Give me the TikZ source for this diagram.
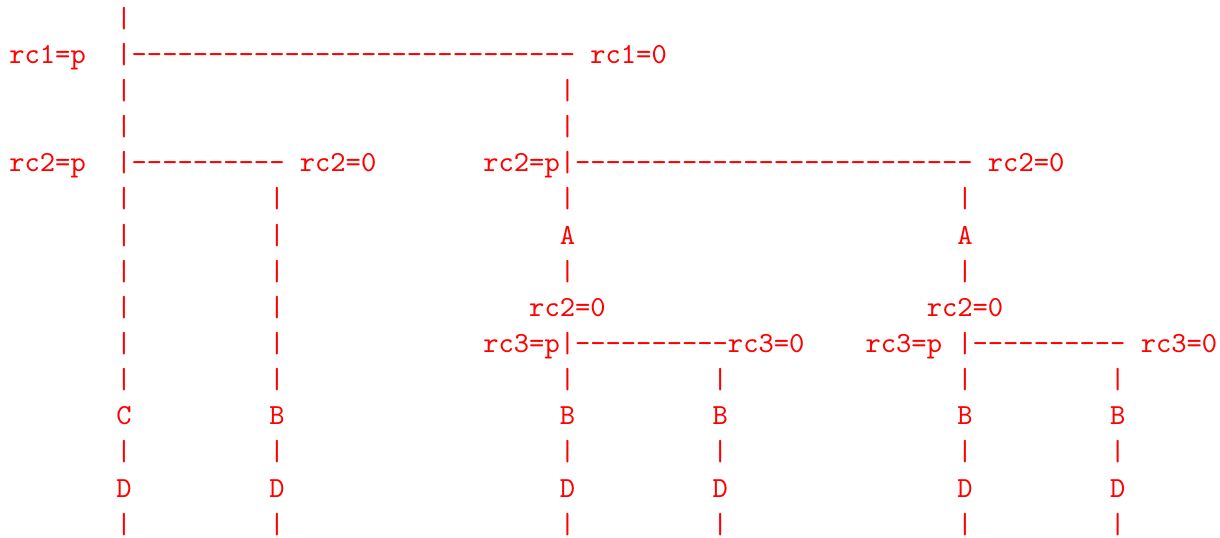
\documentclass[tikz,border=0pt]{standalone}
\begin{document}
\begin{tikzpicture}[x=5.25pt,y=-12.41pt,
  t/.style={anchor=base west, inner sep=0pt, outer sep=0pt, text=red,
            font=\fontsize{10}{12}\selectfont\ttfamily}]
\useasboundingbox (-0.612,-0.753) rectangle (79.18,14.106);
% line 0
\node[t] (l0) at (7,0) {|};
% line 1
\node[t] (rc1p) at (0,1) {rc1=p};
\node[t] (h1) at (7,1) {|-----------------------------};
\node[t] (rc1z) at (38,1) {rc1=0};
% lines 2-3
\foreach \r in {2,3} \foreach \c in {7,36} \node[t] (v\r-\c) at (\c,\r) {|};
% line 4
\node[t] (rc2pa) at (0,4) {rc2=p};
\node[t] (h4a) at (7,4) {|----------};
\node[t] (rc2za) at (19,4) {rc2=0};
\node[t] (h4b) at (31,4) {rc2=p|--------------------------};
\node[t] (rc2zb) at (64,4) {rc2=0};
% line 5
\foreach \c in {7,17,36,62} \node[t] (v5-\c) at (\c,5) {|};
% line 6
\foreach \c in {7,17} \node[t] (v6-\c) at (\c,6) {|};
\foreach \c in {36,62} \node[t] (A\c) at (\c,6) {A};
% line 7
\foreach \c in {7,17,36,62} \node[t] (v7-\c) at (\c,7) {|};
% line 8
\foreach \c in {7,17} \node[t] (v8-\c) at (\c,8) {|};
\node[t] (rc2zc) at (34,8) {rc2=0};
\node[t] (rc2zd) at (60,8) {rc2=0};
% line 9
\foreach \c in {7,17} \node[t] (v9-\c) at (\c,9) {|};
\node[t] (h9a) at (31,9) {rc3=p|----------rc3=0};
\node[t] (rc3pb) at (56,9) {rc3=p};
\node[t] (h9b) at (62,9) {|----------};
\node[t] (rc3zb) at (74,9) {rc3=0};
% line 10
\foreach \c in {7,17,36,46,62,72} \node[t] (v10-\c) at (\c,10) {|};
% line 11
\node[t] (C7) at (7,11) {C};
\foreach \c in {17,36,46,62,72} \node[t] (B\c) at (\c,11) {B};
% line 12
\foreach \c in {7,17,36,46,62,72} \node[t] (v12-\c) at (\c,12) {|};
% line 13
\foreach \c in {7,17,36,46,62,72} \node[t] (D\c) at (\c,13) {D};
% line 14
\foreach \c in {7,17,36,46,62,72} \node[t] (v14-\c) at (\c,14) {|};
\end{tikzpicture}
\end{document}
